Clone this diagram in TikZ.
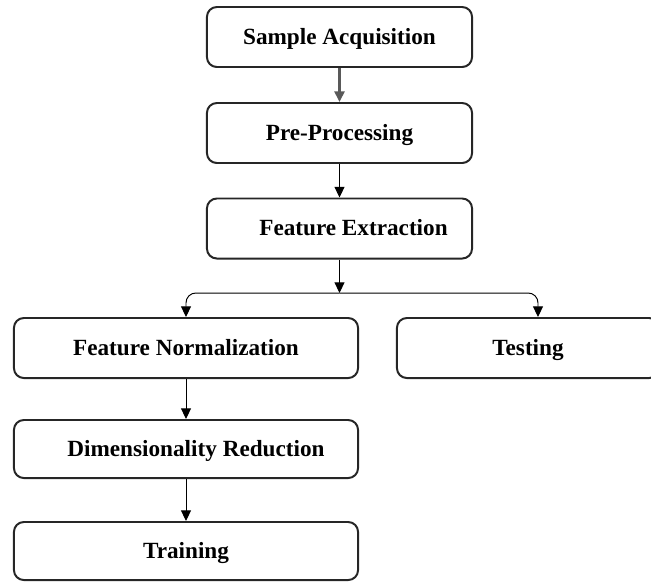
\documentclass[tikz,border=0pt]{standalone}
\usepackage{fontspec}
\setmainfont{Liberation Serif}
\usepackage{tikz}
\usetikzlibrary{positioning, arrows.meta, calc}

\begin{document}
\begin{tikzpicture}[x=0.025cm, y=-0.025cm,
          every node/.style={font=\fontsize{16.5}{19}\selectfont\bfseries},
          stage/.style={rectangle, rounded corners=7pt, draw=black!85, line width=1.4pt,
                        minimum width=6.625cm, minimum height=1.5cm, inner sep=0pt,
                        text height=12pt, text depth=2pt},
          wide/.style={stage, minimum width=8.6cm},
          link/.style={-{Triangle[length=7.5pt, width=7pt]}, line width=0.7pt, black}]
          \useasboundingbox (0,0) rectangle (651,581);

          \node[stage] (sample) at (339.5,37) {Sample Acquisition};
          \node[stage] (prep) at (339.5,133) {Pre-Processing};
          \node[stage] (featext) at (339.5,228.5) {\hspace*{0.7cm}Feature Extraction};
          \node[wide] (featnorm) at (186,348) {Feature Normalization};
          \node[stage, minimum width=6.55cm] (testing) at (528,348) {Testing};
          \node[wide, minimum height=1.45cm] (dimred) at (186,449) {\hspace*{0.5cm}Dimensionality Reduction};
          \node[wide, minimum height=1.45cm] (training) at (186,551) {Training};

          \coordinate (split) at (339.5,293);

          \draw[link, line width=2pt, gray!70!black] (sample) -- (prep);
          \draw[link] (prep) -- (featext);
          \draw[link] (featext) -- (split);
          \draw[link, rounded corners=7pt] (split) -| (featnorm);
          \draw[link, rounded corners=7pt] (split) -| (testing.north -| 538,0);
          \draw[link] (featnorm) -- (dimred);
          \draw[link] (dimred) -- (training);
        \end{tikzpicture}
\end{document}
